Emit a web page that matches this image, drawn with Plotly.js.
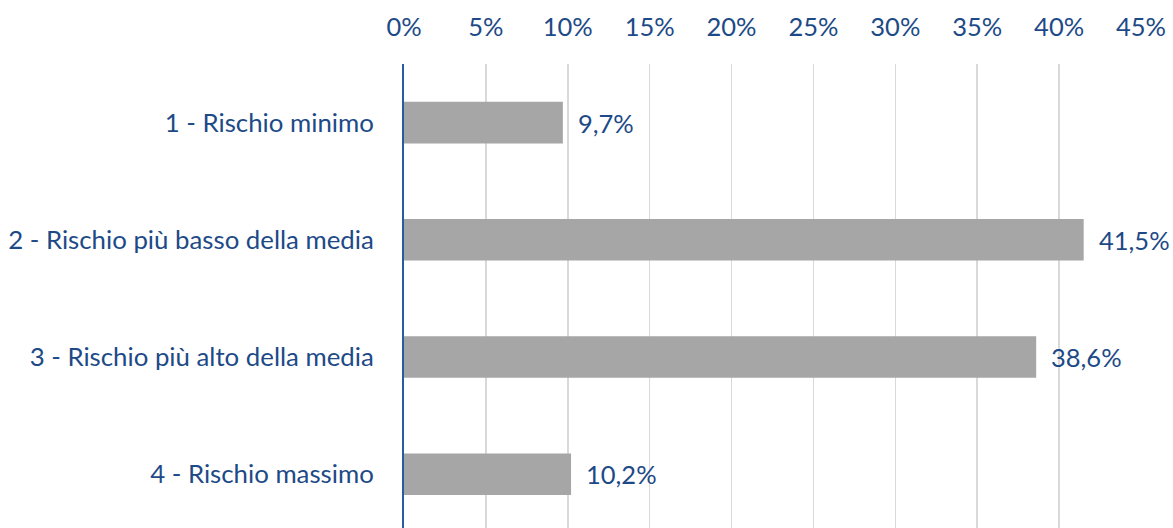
<!DOCTYPE html>
<html>
<head>
<meta charset="utf-8">
<script src="https://cdn.plot.ly/plotly-3.0.1.min.js"></script>
<style>html,body{margin:0;padding:0;background:#fff;}#chart{width:1173px;height:528px;}</style>
</head>
<body>
<div id="chart"></div>
<script>
const categories = ["1 - Rischio minimo", "2 - Rischio più basso della media", "3 - Rischio più alto della media", "4 - Rischio massimo"];
const values = [9.7, 41.5, 38.6, 10.2];
const xTicks = [0, 5, 10, 15, 20, 25, 30, 35, 40, 45];

const blue = "#1d4a87";
const font = "Lato, 'Open Sans', sans-serif";

const labels = values.map(v => v.toFixed(1).replace('.', ',') + '%');

const trace = {
  type: 'bar',
  orientation: 'h',
  x: values,
  y: categories,
  marker: {color: '#a6a6a6'},
  width: 0.355,
  hoverinfo: 'skip'
};

const annotations = values.map((v, i) => ({
  x: v, y: categories[i], xref: 'x', yref: 'y',
  text: labels[i], showarrow: false, xanchor: 'left', yanchor: 'middle',
  xshift: 13, font: {family: font, size: 25.5, color: blue}
}));

const layout = {
  width: 1173, height: 528,
  margin: {l: 404, r: 32, t: 64, b: 0},
  paper_bgcolor: '#fff', plot_bgcolor: '#fff',
  showlegend: false,
  annotations: annotations,
  xaxis: {
    side: 'top', range: [0, 45], tickvals: xTicks,
    ticktext: xTicks.map(t => t + '%'),
    showgrid: true, gridcolor: '#d9d9d9', gridwidth: 1.5,
    zeroline: false, showline: false, ticks: '',
    ticklabelstandoff: 22,
    tickfont: {family: font, size: 25.5, color: blue},
    fixedrange: true
  },
  yaxis: {
    type: 'category', categoryorder: 'array', categoryarray: categories,
    range: [3.459, -0.5],
    showgrid: false, zeroline: false,
    showline: true, linecolor: '#2b5aa0', linewidth: 2,
    ticks: '', ticklabelstandoff: 23,
    tickfont: {family: font, size: 25.8, color: blue},
    fixedrange: true
  }
};

Plotly.newPlot('chart', [trace], layout, {displayModeBar: false, staticPlot: true});
</script>
</body>
</html>
